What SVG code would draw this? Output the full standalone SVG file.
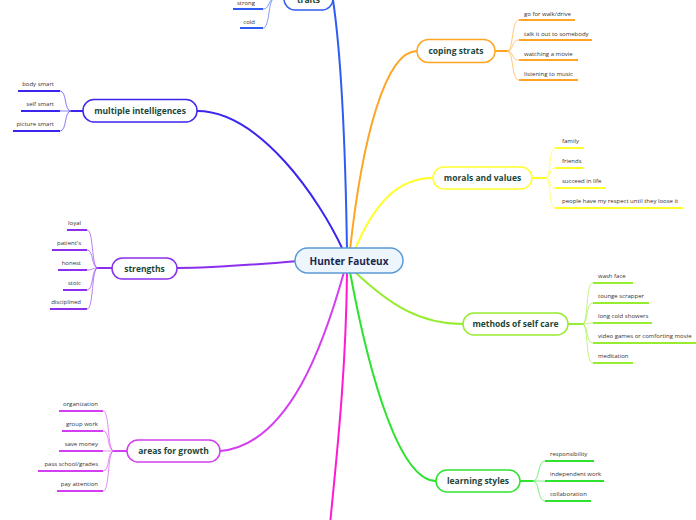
<svg xmlns="http://www.w3.org/2000/svg" width="696" height="520" viewBox="0 0 696 520">
<style>
.bg{fill:#ffffff}
.main{fill:none;stroke-width:2;stroke-linecap:round}
.sub{fill:none;stroke-width:1;opacity:0.6}
.stem{fill:none;stroke-width:2}
.ul{fill:none;stroke-width:2}
.node{fill:#ffffff;stroke-width:1.5}
.nt{font-family:"Open Sans","Noto Sans",sans-serif;font-weight:bold;font-size:8.5px;fill:#1d4638;text-anchor:middle}
.st{font-family:"Open Sans","Noto Sans",sans-serif;font-size:6px;fill:#333333}
.r{text-anchor:end}
.blue{stroke:#2f5cf2}
.indigo{stroke:#3b25ef}
.purple{stroke:#8b2fef}
.mag{stroke:#d23ef0}
.pink{stroke:#ff1ad2}
.green{stroke:#2ee22e}
.lime{stroke:#96ec2e}
.yellow{stroke:#ffff2a}
.orange{stroke:#ffa424}
</style>
<rect class="bg" x="0" y="0" width="696" height="520"/>
<g id="connectors">
  <path class="main blue" d="M347,250 C345,120 339,40 333,0"/>
  <path class="main orange" d="M350,250 C362,140 385,51 417,51"/>
  <path class="main yellow" d="M354,252 C375,200 400,178 433,178"/>
  <path class="main indigo" d="M343,250 C320,200 260,111 197,111"/>
  <path class="main purple" d="M298,261 C240,266 210,268 177,268"/>
  <path class="main lime" d="M355,272 C390,305 420,324 463,324"/>
  <path class="main green" d="M350,272 C370,380 400,481 436,481"/>
  <path class="main mag" d="M344,272 C325,340 290,445 220,451"/>
  <path class="main pink" d="M347,272 C346,380 335,470 330,525"/>
  <path class="stem blue" d="M284,-1 L274,-1"/>
  <path class="sub blue" d="M274,-1 C268,-1 270,9 263,9"/>
  <path class="sub blue" d="M274,-1 C268,-1 270,28 263,28"/>
  <path class="stem orange" d="M495,51 L507,51"/>
  <path class="sub orange" d="M507,51 C514,51 511,20 519,20"/>
  <path class="sub orange" d="M507,51 C514,51 511,40 519,40"/>
  <path class="sub orange" d="M507,51 C514,51 511,60 519,60"/>
  <path class="sub orange" d="M507,51 C514,51 511,80 519,80"/>
  <path class="stem yellow" d="M532,178 L545,178"/>
  <path class="sub yellow" d="M545,178 C552,178 548,148 555,148"/>
  <path class="sub yellow" d="M545,178 C552,178 548,168 555,168"/>
  <path class="sub yellow" d="M545,178 C552,178 548,188 555,188"/>
  <path class="sub yellow" d="M545,178 C552,178 548,208 555,208"/>
  <path class="stem lime" d="M568,324 L582,324"/>
  <path class="sub lime" d="M582,324 C589,324 585,283 593,283"/>
  <path class="sub lime" d="M582,324 C589,324 585,303 593,303"/>
  <path class="sub lime" d="M582,324 C589,324 585,323 593,323"/>
  <path class="sub lime" d="M582,324 C589,324 585,343 593,343"/>
  <path class="sub lime" d="M582,324 C589,324 585,363 593,363"/>
  <path class="stem green" d="M520,481 L533,481"/>
  <path class="sub green" d="M533,481 C540,481 537,461 545,461"/>
  <path class="sub green" d="M533,481 C540,481 537,481 545,481"/>
  <path class="sub green" d="M533,481 C540,481 537,501 545,501"/>
  <path class="stem indigo" d="M83,111 L71,111"/>
  <path class="sub indigo" d="M71,111 C64,111 67,91 60,91"/>
  <path class="sub indigo" d="M71,111 C64,111 67,111 60,111"/>
  <path class="sub indigo" d="M71,111 C64,111 67,131 60,131"/>
  <path class="stem purple" d="M112,268 L98,268"/>
  <path class="sub purple" d="M98,268 C91,268 94,230 87,230"/>
  <path class="sub purple" d="M98,268 C91,268 94,250 87,250"/>
  <path class="sub purple" d="M98,268 C91,268 94,270 87,270"/>
  <path class="sub purple" d="M98,268 C91,268 94,290 87,290"/>
  <path class="sub purple" d="M98,268 C91,268 94,309 87,309"/>
  <path class="stem mag" d="M127,451 L114,451"/>
  <path class="sub mag" d="M114,451 C107,451 110,411 103,411"/>
  <path class="sub mag" d="M114,451 C107,451 110,431 103,431"/>
  <path class="sub mag" d="M114,451 C107,451 110,451 103,451"/>
  <path class="sub mag" d="M114,451 C107,451 110,471 103,471"/>
  <path class="sub mag" d="M114,451 C107,451 110,491 103,491"/>
</g>
<g id="center">
  <rect x="295" y="248" width="108" height="25" rx="12.5" fill="#eef6fd" stroke="#5a9bd5" stroke-width="1.5"/>
  <text x="349" y="264.5" class="nt" style="font-size:10px;fill:#1a2650">Hunter Fauteux</text>
</g>
<g id="traits">
  <rect class="node blue" x="284" y="-12" width="49" height="22" rx="11"/>
  <text class="nt" x="308.5" y="3">traits</text>
  <path class="ul blue" d="M233,9 H263 M240,28 H263"/>
  <text class="st r" x="255" y="5">strong</text>
  <text class="st r" x="255" y="24">cold</text>
</g>
<g id="coping">
  <rect class="node orange" x="417" y="39.5" width="78" height="23" rx="11.5"/>
  <text class="nt" x="456" y="54">coping strats</text>
  <path class="ul orange" d="M519,20 H575 M519,40 H592 M519,60 H578 M519,80 H578"/>
  <text class="st" x="524" y="16">go for walk/drive</text>
  <text class="st" x="524" y="36">talk it out to somebody</text>
  <text class="st" x="524" y="56">watching a movie</text>
  <text class="st" x="524" y="76">listening to music</text>
</g>
<g id="morals">
  <rect class="node yellow" x="433" y="167" width="99" height="22" rx="11"/>
  <text class="nt" x="482.5" y="181">morals and values</text>
  <path class="ul yellow" d="M555,148 H584 M555,168 H584 M555,188 H606 M555,208 H683"/>
  <text class="st" x="562" y="143">family</text>
  <text class="st" x="562" y="163">friends</text>
  <text class="st" x="562" y="183">succeed in life</text>
  <text class="st" x="562" y="203">people have my respect until they loose it</text>
</g>
<g id="selfcare">
  <rect class="node lime" x="463" y="313" width="105" height="22" rx="11"/>
  <text class="nt" x="515.5" y="327">methods of self care</text>
  <path class="ul lime" d="M593,283 H633 M593,303 H649 M593,323 H652 M593,343 H696 M593,363 H633"/>
  <text class="st" x="598" y="278">wash face</text>
  <text class="st" x="598" y="298">tounge scrapper</text>
  <text class="st" x="598" y="318">long cold showers</text>
  <text class="st" x="598" y="338">video games or comforting movie</text>
  <text class="st" x="598" y="358">meditation</text>
</g>
<g id="learning">
  <rect class="node green" x="436" y="470" width="84" height="22" rx="11"/>
  <text class="nt" x="478" y="484">learning styles</text>
  <path class="ul green" d="M545,461 H594 M545,481 H604 M545,501 H591"/>
  <text class="st" x="550" y="456">responsibility</text>
  <text class="st" x="550" y="476">independent work</text>
  <text class="st" x="550" y="496">collaboration</text>
</g>
<g id="intelligences">
  <rect class="node indigo" x="83" y="99.5" width="114" height="22.5" rx="11"/>
  <text class="nt" x="140" y="114">multiple intelligences</text>
  <path class="ul indigo" d="M18,91 H60 M21,111 H60 M13,131 H60"/>
  <text class="st r" x="54" y="86">body smart</text>
  <text class="st r" x="54" y="106">self smart</text>
  <text class="st r" x="54" y="126">picture smart</text>
</g>
<g id="strengths">
  <rect class="node purple" x="112" y="258" width="65" height="21" rx="10.5"/>
  <text class="nt" x="144.5" y="271.5">strengths</text>
  <path class="ul purple" d="M67,230 H87 M52,250 H87 M58,270 H87 M63,290 H87 M50,309 H87"/>
  <text class="st r" x="81" y="225">loyal</text>
  <text class="st r" x="81" y="245">patient's</text>
  <text class="st r" x="81" y="265">honest</text>
  <text class="st r" x="81" y="285">stoic</text>
  <text class="st r" x="81" y="304">disciplined</text>
</g>
<g id="growth">
  <rect class="node mag" x="127" y="440" width="93" height="22" rx="11"/>
  <text class="nt" x="173.5" y="454">areas for growth</text>
  <path class="ul mag" d="M59,411 H103 M62,431 H103 M59,451 H103 M38,471 H103 M57,491 H103"/>
  <text class="st r" x="98" y="406">organization</text>
  <text class="st r" x="98" y="426">group work</text>
  <text class="st r" x="98" y="446">save money</text>
  <text class="st r" x="98" y="466">pass school/grades</text>
  <text class="st r" x="98" y="486">pay attention</text>
</g>
</svg>
